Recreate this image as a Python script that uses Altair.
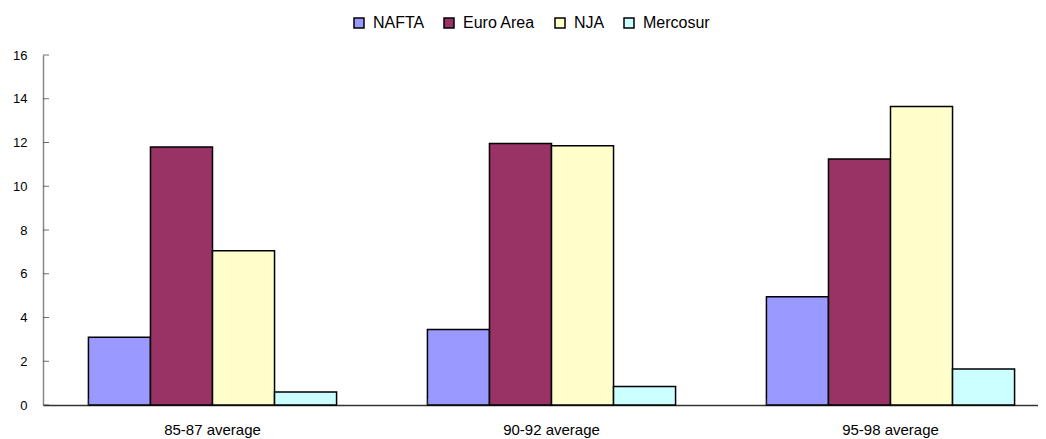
import altair as alt
import pandas as pd

periods = ["85-87 average", "90-92 average", "95-98 average"]
series = ["NAFTA", "Euro Area", "NJA", "Mercosur"]
nafta = [3.1, 3.45, 4.95]
euro = [11.8, 11.95, 11.25]
nja = [7.05, 11.85, 13.65]
mercosur = [0.6, 0.85, 1.65]
colors = ["#9999FF", "#993366", "#FFFFCC", "#CCFFFF"]
y_ticks = [0, 2, 4, 6, 8, 10, 12, 14, 16]

rows = []
for s, vals in zip(series, [nafta, euro, nja, mercosur]):
    for p, v in zip(periods, vals):
        rows.append({"period": p, "series": s, "value": v})
df = pd.DataFrame(rows)
cat_df = pd.DataFrame({"period": periods})
ytick_df = pd.DataFrame({"v": y_ticks})

W, H = 995, 350
FONT = "Liberation Sans"

xscale = alt.Scale(domain=periods, range=[0, 1017], paddingInner=0.268, paddingOuter=0.134)
yscale = alt.Scale(domain=[0, 16], nice=False)

bars = alt.Chart(df).mark_bar(stroke="black", strokeWidth=1.5).encode(
    x=alt.X("period:N", scale=xscale, sort=periods,
            axis=alt.Axis(title=None, labelAngle=0, labelFontSize=15, labelFont=FONT,
                          labelColor="black", labelPadding=17, ticks=False,
                          domainColor="#333333", domainWidth=1.5, labelBaseline="top")),
    xOffset=alt.XOffset("series:N", sort=series, scale=alt.Scale(paddingInner=0, paddingOuter=0)),
    y=alt.Y("value:Q", scale=yscale,
            axis=alt.Axis(title=None, values=y_ticks, labelFontSize=13, labelFont=FONT,
                          labelColor="black", labelPadding=16, ticks=False, grid=False,
                          domainColor="#888888", domainWidth=1.5)),
    fill=alt.Fill("series:N", sort=series, scale=alt.Scale(domain=series, range=colors),
                  legend=alt.Legend(title=None, orient="none", direction="horizontal",
                                    legendX=308, legendY=-40, symbolType="square",
                                    symbolSize=100, symbolStrokeColor="black",
                                    symbolStrokeWidth=1.5, labelFontSize=16, labelFont=FONT,
                                    labelColor="black", labelOffset=6, columnPadding=16)),
)

xticks = alt.Chart(cat_df).mark_tick(orient="vertical", color="#333333", size=6, thickness=1).encode(
    x=alt.X("period:N", scale=xscale, sort=periods, bandPosition=0),
    y=alt.value(H - 3),
)

yticks = alt.Chart(ytick_df).mark_tick(orient="horizontal", color="#333333", size=6, thickness=1).encode(
    y=alt.Y("v:Q", scale=yscale),
    x=alt.value(3),
)

chart = alt.layer(bars, xticks, yticks).properties(
    width=W, height=H,
    background="white",
    autosize=alt.AutoSizeParams(type="none"),
    padding={"left": 35, "top": 47, "right": 0, "bottom": 34},
).configure_view(strokeWidth=0, stroke="transparent")

chart.save("out.html", embed_options={"renderer": "svg", "actions": False})
